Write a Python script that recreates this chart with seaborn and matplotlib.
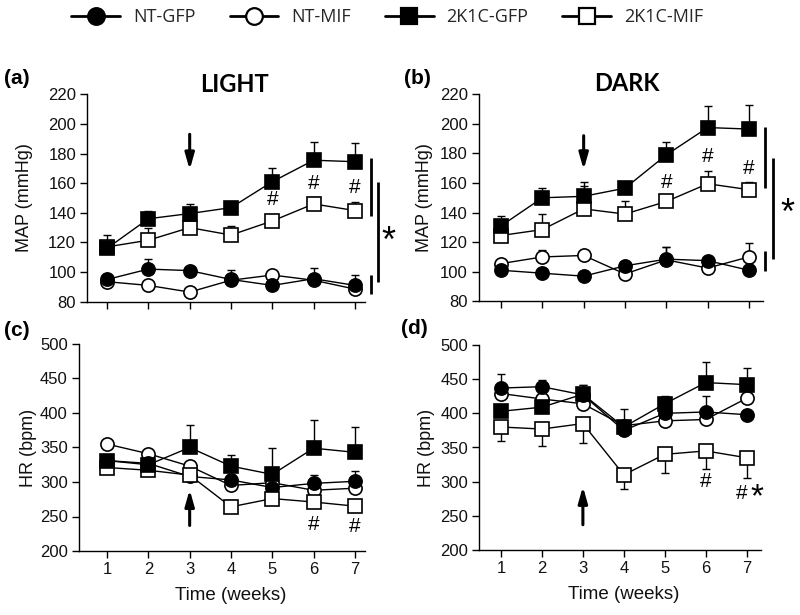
import numpy as np
import pandas as pd
import seaborn as sns
import matplotlib
matplotlib.use("Agg")
import matplotlib.pyplot as plt
from matplotlib.lines import Line2D

sns.set_theme(style="ticks")
plt.rcParams["font.family"] = ["Liberation Sans", "DejaVu Sans"]

# ---------------- data ----------------
weeks = [1, 2, 3, 4, 5, 6, 7]
groups = ["NT-GFP", "NT-MIF", "2K1C-GFP", "2K1C-MIF"]

# MAP light (mmHg)
map_light_nt_gfp = [95, 102, 101, 95, 91, 95.5, 91]
map_light_nt_gfp_err = [2, 7, 2, 6.5, 2, 7.5, 7]
map_light_nt_mif = [93.5, 91, 86.5, 94.5, 98, 94.5, 88.5]
map_light_nt_mif_err = [2, 2, 2, 2, 2, 2, 2]
map_light_k_gfp = [116, 136, 139.5, 143.5, 161, 175.5, 174.5]
map_light_k_gfp_err = [9, 5.5, 6.5, 2, 9, 12.5, 12.5]
map_light_k_mif = [117, 121.5, 130, 125, 134.5, 146, 141.5]
map_light_k_mif_err = [4, 8, 3, 6, 5, 4.5, 6]

# MAP dark (mmHg)
map_dark_nt_gfp = [101, 99, 97, 104, 108.5, 107.5, 101]
map_dark_nt_gfp_err = [2, 2, 2, 2, 8.5, 2, 2]
map_dark_nt_mif = [105.5, 110, 111, 98.5, 108, 102.5, 110]
map_dark_nt_mif_err = [2, 5, 2, 2, 9, 2, 9.5]
map_dark_k_gfp = [131, 150, 151, 156.5, 179, 197.5, 196.5]
map_dark_k_gfp_err = [6.5, 6.5, 9.5, 2, 8.5, 14.5, 16]
map_dark_k_mif = [124.5, 128.5, 142.5, 139, 147.5, 159.5, 155.5]
map_dark_k_mif_err = [3, 10.5, 15.5, 8.5, 2, 8.5, 5.5]

# HR light (bpm)
hr_light_nt_gfp = [331, 327, 308, 303, 292, 298, 301]
hr_light_nt_gfp_err = [5, 5, 5, 5, 5, 12, 15]
hr_light_nt_mif = [355, 341, 323, 295, 299, 288, 291]
hr_light_nt_mif_err = [5, 5, 5, 5, 5, 5, 5]
hr_light_k_gfp = [331, 325, 350, 323, 311, 349, 343]
hr_light_k_gfp_err = [5, 5, 32, 16, 38, 41, 37]
hr_light_k_mif = [321, 317, 310, 264, 276, 271, 265]
hr_light_k_mif_err = [4, 4, 4, 10, 4, 4, 4]

# HR dark (bpm)
hr_dark_nt_gfp = [437, 439, 427, 375, 400, 402, 398]
hr_dark_nt_gfp_err = [20, 10, 14, 5, 5, 24, 5]
hr_dark_nt_mif = [429, 421, 414, 382, 389, 391, 422]
hr_dark_nt_mif_err = [5, 5, 5, 25, 5, 5, 5]
hr_dark_k_gfp = [403, 409, 428, 380, 414, 445, 442]
hr_dark_k_gfp_err = [5, 5, 14, 5, 12, 30, 24]
hr_dark_k_mif = [380, 377, 385, 310, 340, 345, 335]
hr_dark_k_mif_err = [21, 25, 28, 20, 27, 26, 30]   # drawn downward

xtick_labels = ["1", "2", "3", "4", "5", "6", "7"]

# ---------------- styling ----------------
style = {
    "NT-GFP": dict(marker="o", mfc="black"),
    "NT-MIF": dict(marker="o", mfc="white"),
    "2K1C-GFP": dict(marker="s", mfc="black"),
    "2K1C-MIF": dict(marker="s", mfc="white"),
}
draw_order = ["NT-MIF", "NT-GFP", "2K1C-MIF", "2K1C-GFP"]

W, H = 800, 615
fig = plt.figure(figsize=(W / 100, H / 100), dpi=100)


def px_axes(l, r, t, b):
    return fig.add_axes([l / W, 1 - b / H, (r - l) / W, (b - t) / H])


ax_a = px_axes(87.2, 364.9, 94.3, 301.7)
ax_b = px_axes(479.1, 762.6, 94.3, 301.3)
ax_c = px_axes(78.9, 364.9, 344, 551)
ax_d = px_axes(479.3, 761.4, 345, 550)

panels = [
    (ax_a, (0.52, 7.24), (80, 220), np.arange(80, 221, 20), "MAP (mmHg)",
     {"NT-GFP": (map_light_nt_gfp, map_light_nt_gfp_err, "up"),
      "NT-MIF": (map_light_nt_mif, map_light_nt_mif_err, "up"),
      "2K1C-GFP": (map_light_k_gfp, map_light_k_gfp_err, "up"),
      "2K1C-MIF": (map_light_k_mif, map_light_k_mif_err, "up")}, -0.195),
    (ax_b, (0.47, 7.33), (80, 220), np.arange(80, 221, 20), "MAP (mmHg)",
     {"NT-GFP": (map_dark_nt_gfp, map_dark_nt_gfp_err, "up"),
      "NT-MIF": (map_dark_nt_mif, map_dark_nt_mif_err, "up"),
      "2K1C-GFP": (map_dark_k_gfp, map_dark_k_gfp_err, "up"),
      "2K1C-MIF": (map_dark_k_mif, map_dark_k_mif_err, "up")}, -0.163),
    (ax_c, (0.32, 7.24), (200, 500), np.arange(200, 501, 50), "HR (bpm)",
     {"NT-GFP": (hr_light_nt_gfp, hr_light_nt_gfp_err, "up"),
      "NT-MIF": (hr_light_nt_mif, hr_light_nt_mif_err, "up"),
      "2K1C-GFP": (hr_light_k_gfp, hr_light_k_gfp_err, "up"),
      "2K1C-MIF": (hr_light_k_mif, hr_light_k_mif_err, "up")}, -0.146),
    (ax_d, (0.47, 7.36), (200, 500), np.arange(200, 501, 50), "HR (bpm)",
     {"NT-GFP": (hr_dark_nt_gfp, hr_dark_nt_gfp_err, "up"),
      "NT-MIF": (hr_dark_nt_mif, hr_dark_nt_mif_err, "up"),
      "2K1C-GFP": (hr_dark_k_gfp, hr_dark_k_gfp_err, "up"),
      "2K1C-MIF": (hr_dark_k_mif, hr_dark_k_mif_err, "down")}, -0.157),
]

for i, (ax, xlim, ylim, yticks, ylabel, series, ylab_x) in enumerate(panels):
    for z, g in enumerate(draw_order):
        vals, err, direction = series[g]
        err = np.asarray(err, dtype=float)
        zeros = np.zeros_like(err)
        yerr = [zeros, err] if direction == "up" else [err, zeros]
        ax.errorbar(weeks, vals, yerr=yerr, fmt="none", ecolor="black",
                    elinewidth=1.0, capsize=3, capthick=1.0, zorder=2 + z * 2)
        df = pd.DataFrame({"week": weeks, "value": vals})
        sns.lineplot(data=df, x="week", y="value", ax=ax, color="black",
                     linewidth=1.0, marker=style[g]["marker"],
                     markerfacecolor=style[g]["mfc"], markeredgecolor="black",
                     markeredgewidth=1.2, markersize=9.5, zorder=3 + z * 2,
                     legend=False)
    ax.set_xlim(*xlim)
    ax.set_ylim(*ylim)
    ax.set_yticks(yticks)
    ax.set_xticks(weeks)
    sns.despine(ax=ax)
    for sp in ["left", "bottom"]:
        ax.spines[sp].set_color("black")
        ax.spines[sp].set_linewidth(1.0)
    ax.tick_params(axis="both", direction="out", length=5, width=1.0,
                   color="black", labelsize=12, labelcolor="#111111", pad=3)
    ax.set_ylabel(ylabel, fontsize=13, color="#111111")
    ax.yaxis.set_label_coords(ylab_x, 0.5)
    if i < 2:
        ax.set_xticklabels([])
        ax.set_xlabel("")
    else:
        ax.set_xticklabels(xtick_labels)
        ax.set_xlabel("Time (weeks)", fontsize=13.5, color="#111111")
        ax.xaxis.set_label_coords((4 - xlim[0]) / (xlim[1] - xlim[0]), -0.175)
    ax.set_facecolor("white")

# ---------------- annotations ----------------
arrow_kw = dict(arrowstyle="-|>,head_length=0.6,head_width=0.17", lw=2.2,
                color="black", mutation_scale=16, shrinkA=0, shrinkB=0)
ax_a.annotate("", xy=(3, 169), xytext=(3, 193), arrowprops=arrow_kw)
ax_b.annotate("", xy=(3, 169), xytext=(3, 192), arrowprops=arrow_kw)
ax_c.annotate("", xy=(3, 289), xytext=(3, 237), arrowprops=arrow_kw)
ax_d.annotate("", xy=(3, 293), xytext=(3, 237), arrowprops=arrow_kw)

hash_kw = dict(ha="center", va="center", fontsize=15, color="black")
for x, y in [(5, 148.7), (6, 160), (7, 157)]:
    ax_a.text(x, y, "#", **hash_kw)
for x, y in [(5, 160.6), (6, 177.8), (7, 170)]:
    ax_b.text(x, y, "#", **hash_kw)
for x, y in [(6, 239), (7, 236)]:
    ax_c.text(x, y, "#", **hash_kw)
ax_d.text(6, 300, "#", **hash_kw)
ax_d.text(6.88, 283, "#", **hash_kw)
ax_d.text(7.24, 277, "*", ha="center", va="center", fontsize=24, color="black")

bar_kw = dict(color="black", lw=2.0, clip_on=False, solid_capstyle="butt")
ax_a.plot([7.38, 7.38], [138, 177.3], **bar_kw)
ax_a.plot([7.55, 7.55], [93.3, 161.1], **bar_kw)
ax_a.plot([7.38, 7.38], [85.2, 98], **bar_kw)
ax_a.text(7.8, 120, "*", ha="center", va="center", fontsize=26, color="black",
          clip_on=False)
ax_b.plot([7.39, 7.39], [156.4, 198], **bar_kw)
ax_b.plot([7.59, 7.59], [108.4, 176.7], **bar_kw)
ax_b.plot([7.39, 7.39], [100.7, 114], **bar_kw)
ax_b.text(7.94, 139, "*", ha="center", va="center", fontsize=26, color="black",
          clip_on=False)

# panel letters & titles
for lab, x, y in [("(a)", 17, 78), ("(b)", 417, 78), ("(c)", 17, 331), ("(d)", 414, 329)]:
    fig.text(x / W, 1 - y / H, lab, ha="center", va="center", fontsize=15,
             fontweight="bold", color="black")
fig.text(234 / W, 1 - 84.5 / H, "LIGHT", ha="center", va="center", fontsize=17,
         fontweight="bold", family=["Lato", "DejaVu Sans"], color="black")
fig.text(627 / W, 1 - 83.5 / H, "DARK", ha="center", va="center", fontsize=17,
         fontweight="bold", family=["Lato", "DejaVu Sans"], color="black")

# legend
handles = [Line2D([0], [0], color="black", lw=2, marker=style[g]["marker"],
                  markerfacecolor=style[g]["mfc"], markeredgecolor="black",
                  markeredgewidth=1.6, markersize=12) for g in groups]
fig.legend(handles, groups, loc="center", bbox_to_anchor=(0.484, 1 - 17 / H),
           ncol=4, frameon=False, handlelength=2.7,
           handletextpad=0.7, columnspacing=1.9,
           prop={"family": ["Open Sans", "DejaVu Sans"], "size": 13})

fig.savefig("out.png", dpi=100, facecolor="white")
